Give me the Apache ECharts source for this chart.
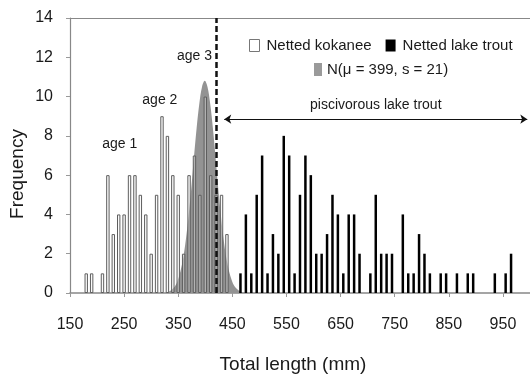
<!DOCTYPE html>
<html>
<head>
<meta charset="utf-8">
<script src="https://cdn.jsdelivr.net/npm/echarts@6/dist/echarts.min.js"></script>
<style>html,body{margin:0;padding:0;background:#fff}#c{width:530px;height:376px}</style>
</head>
<body>
<div id="c"></div>
<script>
// ---- data ----
const kokaneeLength = [180,190,210,220,230,240,250,260,270,280,290,300,310,320,330,340,350,360,370,380,390,400,410,420,430,440];
const kokaneeFreq   = [1,  1,  1,  6,  3,  4,  4,  6,  6,  5,  4,  2,  5,  9,  8,  6,  5,  2,  6,  7,  5,  10, 6,  5,  5,  3];
const troutLength = [465,475,485,495,505,515,525,535,545,555,565,575,585,595,605,615,625,635,645,655,665,675,685,705,715,725,735,745,765,775,785,795,805,815,835,845,865,885,895,935,955,965];
const troutFreq   = [1,  4,  1,  5,  7,  1,  3,  2,  8,  7,  1,  5,  7,  6,  2,  2,  3,  5,  4,  1,  4,  4,  2,  1,  5,  2,  2,  2,  4,  1,  1,  3,  2,  1,  1,  1,  1,  1,  1,  1,  1,  2];
const normalLength = [324,334,344,349,354,359,364,369,374,379,384,389,394,399,404,409,414,419,424,429,434,439,444,449,454,464,474];
const normalFreq   = [0.0,0.09,0.35,0.64,1.1,1.76,2.7,3.9,5.3,6.9,8.4,9.65,10.5,10.8,10.5,9.65,8.4,6.9,5.3,3.9,2.7,1.76,1.1,0.64,0.35,0.09,0.0];
const xTickLabels = [150,250,350,450,550,650,750,850,950];
const yTickLabels = [0,2,4,6,8,10,12,14];
const ageLabels = [
  {name:'age 1', at:[242, 7.6]},
  {name:'age 2', at:[316, 9.8]},
  {name:'age 3', at:[380, 12.05]}
];
const cutoffLength = 421;
const arrowSpan = [435, 995];
const arrowLevel = 8.85;
const names = {kok:'Netted kokanee', trout:'Netted lake trout', norm:'N(μ = 399, s = 21)'};

const FONT = "'Liberation Sans', Arial, Helvetica, sans-serif";
const chart = echarts.init(document.getElementById('c'), null, {renderer:'canvas'});

const zip = (a,b) => a.map((v,i)=>[v,b[i]]);

chart.setOption({
  animation:false,
  backgroundColor:'#fff',
  textStyle:{fontFamily:FONT},
  grid:{left:70, right:0, top:18, bottom:83, containLabel:false},
  legend:[
    {left:244, top:33, itemWidth:10, itemHeight:12, itemGap:14, icon:'rect', selectedMode:false,
     textStyle:{fontSize:15, color:'#1a1a1a', fontFamily:FONT, padding:[0,0,0,2]},
     data:[{name:names.kok, itemStyle:{color:'#fff', borderColor:'#777', borderWidth:1}},
           {name:names.trout, itemStyle:{color:'#000'}}]},
    {left:309, top:57, itemWidth:8, itemHeight:13, icon:'rect', selectedMode:false,
     textStyle:{fontSize:15, color:'#1a1a1a', fontFamily:FONT},
     data:[{name:names.norm, itemStyle:{color:'#9a9a9a'}}]}
  ],
  xAxis:[
    {type:'value', position:'bottom', min:150, max:1000, interval:50,
     axisLine:{show:true, lineStyle:{color:'#888', width:1.5}},
     axisTick:{show:true, length:4, lineStyle:{color:'#999'}, customValues:xTickLabels},
     axisLabel:{customValues:xTickLabels, fontSize:16, color:'#1a1a1a', margin:24, fontFamily:FONT},
     splitLine:{show:false}},
    {type:'value', position:'top', min:150, max:1000, interval:50,
     axisLine:{show:true, lineStyle:{color:'#888', width:1.2}},
     axisTick:{show:false}, axisLabel:{show:false}, splitLine:{show:false}}
  ],
  yAxis:{type:'value', min:0, max:14, interval:2,
     axisLine:{show:true, lineStyle:{color:'#888', width:1.2}},
     axisTick:{show:true, length:4, lineStyle:{color:'#999'}},
     axisLabel:{fontSize:16, color:'#1a1a1a', margin:17, fontFamily:FONT,
                formatter:v => yTickLabels.includes(v) ? String(v) : ''},
     splitLine:{show:false}},
  graphic:[
    {type:'text', x:293, y:365, style:{text:'Total length (mm)', fontSize:19, fill:'#1a1a1a', fontFamily:FONT, textAlign:'center', textVerticalAlign:'middle'}},
    {type:'text', x:18, y:174, rotation:Math.PI/2, style:{text:'Frequency', fontSize:19, fill:'#1a1a1a', fontFamily:FONT, textAlign:'center', textVerticalAlign:'middle'}}
  ],
  series:[
    {name:names.norm, type:'line', xAxisIndex:0, data:zip(normalLength, normalFreq),
     smooth:0.35, showSymbol:false, symbol:'none', z:1,
     lineStyle:{width:0}, areaStyle:{color:'#939393', opacity:1}, itemStyle:{color:'#9a9a9a'}},
    {name:names.kok, type:'bar', xAxisIndex:0, data:zip(kokaneeLength, kokaneeFreq),
     barWidth:3.4, z:2,
     itemStyle:{color:'rgba(240,240,240,0.35)', borderColor:'#5e5e5e', borderWidth:1},
     markLine:{silent:true, symbol:'none', animation:false,
       label:{show:false},
       lineStyle:{type:[6,3], width:2.5, color:'#111'},
       data:[{xAxis:cutoffLength}]},
     markPoint:{silent:true, symbol:'rect', symbolSize:1, animation:false,
       itemStyle:{color:'rgba(0,0,0,0)'},
       label:{show:true, position:'inside', formatter:'{b}', fontSize:14, color:'#1a1a1a', fontFamily:FONT},
       data:ageLabels.map(a=>({name:a.name, coord:a.at}))}},
    {name:names.trout, type:'bar', xAxisIndex:1, data:zip(troutLength, troutFreq),
     barWidth:2.5, z:3, itemStyle:{color:'#000'},
     markLine:{silent:true, symbol:['arrow','arrow'], symbolSize:7, animation:false,
       lineStyle:{type:'solid', width:1, color:'#111'},
       label:{show:true, position:'middle', formatter:'piscivorous lake trout', fontSize:14, color:'#1a1a1a',
              fontFamily:FONT, backgroundColor:'#fff', padding:[2,6]},
       data:[[{coord:[arrowSpan[0], arrowLevel]},{coord:[arrowSpan[1], arrowLevel]}]]}}
  ]
});
</script>
</body>
</html>
